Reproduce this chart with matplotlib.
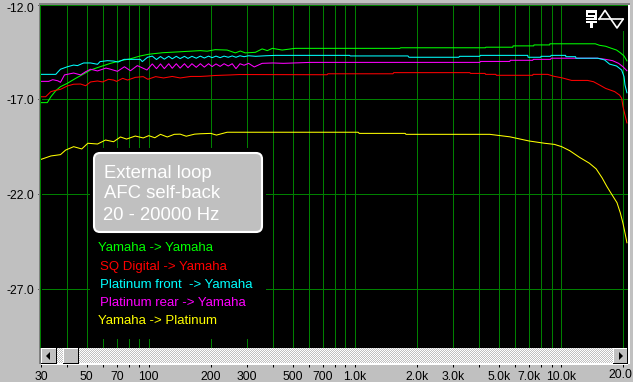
import numpy as np
from matplotlib import pyplot as plt
from matplotlib.patches import FancyBboxPatch, Rectangle, Polygon
from matplotlib.transforms import ScaledTranslation

plt.rcParams['font.family'] = ['Liberation Sans', 'DejaVu Sans']

BG = '#c0c0c0'
GRID = '#008000'

# frequency (Hz) and level (dB)
green_f = [30, 32.2, 33.5, 35.4, 37.3, 40.3, 44.2, 48.3, 52.2, 58, 65.2, 72.9, 81.5, 91, 100, 117, 142, 178,
           192, 210, 240, 263, 278, 294, 329, 355, 376, 398, 444, 513, 1650, 1670, 4300, 4320, 5836, 5860,
           7376, 7400, 8815, 8840, 14675, 15390, 16470, 17600, 18610, 19450, 20230, 20900]
green_db = [-17.17, -17.17, -16.86, -16.54, -16.33, -16.15, -15.89, -15.66, -15.45, -15.28, -15.10, -14.96,
            -14.86, -14.71, -14.62, -14.54, -14.49, -14.43, -14.46, -14.38, -14.40, -14.55, -14.45, -14.55,
            -14.52, -14.34, -14.43, -14.31, -14.40, -14.31, -14.31, -14.28, -14.28, -14.25, -14.25, -14.18,
            -14.18, -14.13, -14.13, -14.07, -14.07, -14.15, -14.20, -14.31, -14.40, -14.55, -14.71, -14.97]

red_f = [30, 31.6, 33.5, 35.4, 37.3, 40.3, 43.2, 46.7, 49.4, 52.2, 56.4, 59.7, 63.8, 67.5, 69.8, 74.7, 78.9,
         86, 94, 99, 108, 118, 130, 142, 160, 178, 192, 210, 250, 275, 733, 740, 1530, 1545, 3614, 3640, 4280,
         4310, 4830, 4860, 7295, 7320, 8620, 9217, 10080, 11265, 13470, 14400, 15390, 16470, 18220, 19240,
         19700, 20000, 20450, 20900]
red_db = [-16.86, -16.86, -16.59, -16.52, -16.47, -16.29, -16.20, -16.19, -16.28, -16.08, -16.03, -16.08,
          -15.94, -15.98, -16.05, -15.89, -15.98, -15.84, -15.80, -15.94, -15.80, -15.87, -15.79, -15.87,
          -15.79, -15.79, -15.77, -15.74, -15.71, -15.69, -15.70, -15.65, -15.65, -15.59, -15.59, -15.63,
          -15.63, -15.68, -15.68, -15.73, -15.73, -15.68, -15.68, -15.78, -15.86, -16.00, -16.00, -16.07,
          -16.24, -16.42, -16.59, -16.77, -16.94, -17.38, -17.82, -18.24]

cyan_f = [30, 35.4, 36.2, 37.3, 40.3, 43.2, 45.1, 48.3, 52.2, 56.4, 58, 63, 67.5, 71, 76, 91, 93, 98.6, 104, 109,
          114, 119, 125, 130, 136, 142, 149, 155, 162, 170, 178, 186, 195, 203, 212, 222, 232, 243, 254, 265, 277,
          290, 305, 330, 370, 412, 943, 950, 1810, 1830, 3195, 3220, 4038, 4060, 6896, 6930, 7973, 8000, 8915,
          8950, 10535, 10570, 11780, 11820, 15060, 16280, 17210, 18610, 19700, 20230, 20450, 20900]
cyan_db = [-15.68, -15.68, -15.56, -15.41, -15.28, -15.19, -15.22, -15.08, -15.08, -15.15, -15.01, -14.96,
           -14.98, -15.03, -14.89, -14.89, -15.01, -14.78, -14.72, -14.90, -14.74, -14.88, -14.73, -14.86, -14.73,
           -14.85, -14.73, -14.84, -14.73, -14.83, -14.72, -14.82, -14.72, -14.80, -14.72, -14.80, -14.72, -14.78,
           -14.71, -14.78, -14.70, -14.75, -14.70, -14.73, -14.70, -14.68, -14.68, -14.71, -14.71, -14.78, -14.78,
           -14.73, -14.73, -14.68, -14.68, -14.78, -14.78, -14.73, -14.73, -14.68, -14.68, -14.75, -14.75, -14.83,
           -14.83, -14.92, -15.14, -15.24, -15.45, -15.80, -16.24, -16.65]

magenta_f = [30, 32.7, 34.2, 36.2, 37.3, 39, 43.2, 46.7, 49.4, 52.2, 56.4, 62, 65.2, 70.5, 76.2, 81.5, 88, 98, 104,
             109, 114, 119, 125, 130, 136, 142, 149, 155, 162, 170, 178, 186, 195, 203, 212, 222, 232, 243, 254,
             265, 277, 290, 305, 325, 355, 400, 450, 607, 4038, 4070, 5642, 5680, 7295, 7340, 8915, 8970, 15060,
             16470, 17800, 19040, 20000, 20900]
magenta_db = [-16.05, -16.05, -15.96, -16.02, -16.10, -15.71, -15.61, -15.71, -15.54, -15.41, -15.50, -15.35,
              -15.41, -15.52, -15.28, -15.49, -15.22, -15.45, -15.13, -15.38, -15.13, -15.38, -15.12, -15.36,
              -15.12, -15.35, -15.12, -15.33, -15.12, -15.31, -15.12, -15.30, -15.12, -15.27, -15.13, -15.26,
              -15.12, -15.24, -15.12, -15.38, -15.12, -15.20, -15.10, -15.29, -15.10, -15.08, -15.10, -15.05,
              -15.05, -15.00, -15.00, -14.94, -14.94, -14.89, -14.89, -14.83, -14.83, -14.89, -14.96, -15.10,
              -15.28, -15.49]

yellow_f = [30, 33.5, 37.3, 39.5, 43.2, 47.3, 50.6, 56.4, 61.7, 67.5, 72.9, 78, 86, 94, 100, 107, 114, 123, 133,
            142, 152, 167, 178, 200, 213, 240, 1037, 1050, 1754, 1770, 4510, 5640, 7000, 8320, 9300, 10080,
            11020, 12300, 13730, 14820, 15830, 16710, 17700, 18700, 19400, 19970, 20450, 20900]
yellow_db = [-20.16, -19.98, -19.91, -19.67, -19.49, -19.61, -19.31, -19.35, -19.14, -19.23, -18.98, -19.09,
             -18.93, -19.03, -18.91, -19.02, -18.84, -18.98, -18.84, -18.83, -18.94, -18.83, -18.81, -18.79,
             -18.88, -18.73, -18.73, -18.79, -18.79, -18.84, -18.84, -18.97, -19.19, -19.31, -19.37, -19.49,
             -19.70, -20.05, -20.36, -20.66, -21.13, -21.59, -22.03, -22.44, -22.97, -23.50, -24.03, -24.55]

y_ticks = [-12, -17, -22, -27]
x_grid = [40, 50, 60, 70, 80, 90, 100, 200, 300, 400, 500, 600, 700, 800, 900, 1000,
          2000, 3000, 4000, 5000, 6000, 7000, 8000, 9000, 10000, 20000]
x_labels = {30: '30', 50: '50', 70: '70', 100: '100', 200: '200', 300: '300', 500: '500', 700: '700',
            1000: '1.0k', 2000: '2.0k', 3000: '3.0k', 5000: '5.0k', 7000: '7.0k', 10000: '10.0k', 20000: ''}

legend_names = ['Yamaha -> Yamaha', 'SQ Digital -> Yamaha', 'Platinum front  -> Yamaha',
                'Platinum rear -> Yamaha', 'Yamaha -> Platinum']
legend_colors = ['#00ff00', '#ff0000', '#00ffff', '#ff00ff', '#ffff00']
box_lines = ['External loop', 'AFC self-back', '20 - 20000 Hz']

W, H = 633, 382
fig = plt.figure(figsize=(W / 100, H / 100), dpi=100, facecolor=BG)

# main plot, scrollbar sits on top of its lower part
ax = fig.add_axes([41 / W, 1 - 364 / H, 587 / W, (364 - 4.5) / H], facecolor='black')
ax.set_xscale('log')
ax.set_xlim(30.2, 21150)
ax.set_ylim(-30.94, -12)
for s in ax.spines.values():
    s.set_visible(False)

ax.vlines(x_grid, -30.94, -12, color=GRID, lw=0.72, antialiased=False, zorder=1)
ax.hlines(y_ticks, 30.2, 21150, color=GRID, lw=0.72, antialiased=False, zorder=1)

series = [(green_f, green_db), (red_f, red_db), (magenta_f, magenta_db), (cyan_f, cyan_db), (yellow_f, yellow_db)]
colors = ['#00ff00', '#ff0000', '#ff00ff', '#00ffff', '#ffff00']
for (f, db), c in zip(series, colors):
    ax.plot(f, db, color=c, lw=0.75, zorder=3)

ax.set_yticks(y_ticks, ['%.1f' % v for v in y_ticks], fontsize=8.7, color='black')
ax.set_xticks(list(x_labels) + [40, 60, 80, 90, 400, 600, 800, 900, 4000, 6000, 8000, 9000],
              list(x_labels.values()) + [''] * 12, fontsize=8.7)
ax.minorticks_off()
ax.tick_params(axis='both', length=2.2, width=0.72, color='black', pad=2.5)
top_label = ax.get_yticklabels()[0]
top_label.set_transform(top_label.get_transform() + ScaledTranslation(0, -2 / 72, fig.dpi_scale_trans))

# window furniture, drawn in pixel coordinates
ui = fig.add_axes([0, 0, 1, 1], facecolor='none')
ui.axis('off')


def rect(x0, y0, x1, y1, c, z=5):
    ui.add_patch(Rectangle((x0, y0), x1 - x0, y1 - y0, fc=c, ec='none', zorder=z, antialiased=False))


# dithered scrollbar track
yy, xx = np.indices((16, 587))
ui.imshow((xx + yy) % 2, cmap='gray', vmin=-3, vmax=1, extent=(41, 628, 364, 348), aspect='auto',
          interpolation='nearest', zorder=4)
ui.set_xlim(0, W)
ui.set_ylim(H, 0)

rect(39, 3, 630, 5, '#808080')
rect(39, 3, 41, 364, '#808080')
rect(41, 5, 628, 6, GRID)
rect(40, 5, 41, 348, GRID)
rect(628, 5, 630, 364, 'white')
rect(41, 363, 628, 364.5, 'white')

# black area behind the notes hides the grid
rect(90, 148, 266, 339, 'black')
rect(585, 6, 628, 31, 'black')


def button(x0, x1):
    rect(x0, 348, x1, 364, 'black', 6)
    rect(x0, 348, x1 - 1, 363, 'white', 6)
    rect(x0 + 1, 349, x1 - 1, 363, BG, 6)


button(41, 57)
button(63, 79)
button(613, 628)
ui.add_patch(Polygon([[46, 356], [50, 352], [50, 360]], fc='black', ec='none', zorder=7))
ui.add_patch(Polygon([[623, 356], [619, 352], [619, 360]], fc='black', ec='none', zorder=7))

ui.text(632.5, 375, '20.0', fontsize=8.7, color='black', ha='right', va='center', zorder=7)

# note box
ui.add_patch(FancyBboxPatch((99, 158), 158, 69, boxstyle='round,pad=5,rounding_size=6', fc=BG, ec='white',
                            lw=1.5, zorder=6))
for t, x, y in zip(box_lines, [104, 104, 103], [173, 193.5, 216]):
    ui.text(x, y, t, color='white', fontsize=13.3, va='center', ha='left', zorder=7)

for t, c, x, y in zip(legend_names, legend_colors, [98, 100, 99.5, 99.5, 98], [248, 267, 285, 303, 321]):
    ui.text(x, y, t, color=c, fontsize=9.5, va='center', ha='left', zorder=7)

# tuning fork / sine icon
rect(586, 10, 597, 20, 'white', 7)
rect(588, 12.5, 595, 14.5, 'black', 8)
rect(586, 16.5, 594, 18, 'black', 8)
rect(586, 21, 597, 23, 'white', 7)
rect(590, 23, 593, 28, 'white', 7)
ui.plot([599, 623], [19.3, 19.3], color='white', lw=1.2, zorder=7)
ui.plot([599, 605, 611, 617, 623], [19.3, 10.3, 19.3, 28, 19.3], color='white', lw=1.2, zorder=7)

fig.savefig('out.png', dpi=100, facecolor=BG)
